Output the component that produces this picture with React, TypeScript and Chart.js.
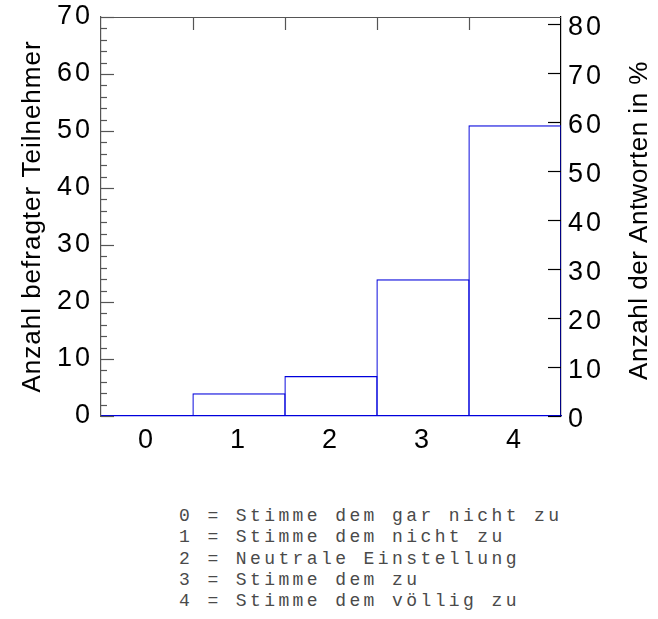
import React, { useEffect, useRef } from "react";
import { Chart, registerables } from "chart.js";

Chart.register(...registerables);

// Likert answer categories and how many participants chose each
const categories = ["0", "1", "2", "3", "4"];
const participants = [0, 4, 7, 24, 51];

// Left axis: participant counts
const countMax = 70;
const countStep = 10;
const countMinorStep = 2;
// Right axis: share of all answers in percent (same pixels as the count axis)
const totalAnswers = participants.reduce((a, b) => a + b, 0);
const percentMax = (countMax / totalAnswers) * 100;
const percentStep = 10;
const percentLastTick = 80;

const leftTitle = "Anzahl befragter Teilnehmer";
const rightTitle = "Anzahl der Antworten in %";

const legendLines = [
  "0 = Stimme dem gar nicht zu",
  "1 = Stimme dem nicht zu",
  "2 = Neutrale Einstellung",
  "3 = Stimme dem zu",
  "4 = Stimme dem völlig zu",
];

const SANS = '"Liberation Sans", Arial, sans-serif';
const BAR_BLUE = "#0000dc";
const BAR_LINE = 1.2;

// Inward tick marks, top frame line and rotated axis titles
const framePlugin = {
  id: "frame",
  beforeDraw(chart: any) {
    chart.ctx.letterSpacing = "3px";
  },
  afterDraw(chart: any) {
    const { ctx, chartArea, scales } = chart;
    const { left, right, top, bottom } = chartArea;
    const y = scales.y;
    const y2 = scales.y2;
    const x = scales.x;
    ctx.save();
    ctx.letterSpacing = "0px";
    ctx.lineWidth = 1.2;
    const seg = (x1: number, y1: number, x2: number, y2p: number) => {
      ctx.beginPath();
      ctx.moveTo(x1, y1);
      ctx.lineTo(x2, y2p);
      ctx.stroke();
    };

    ctx.strokeStyle = "#555";
    seg(left, top + 0.5, right, top + 0.5);
    for (let v = 0; v <= countMax; v += countMinorStep) {
      const py = Math.round(y.getPixelForValue(v)) + 0.5;
      const len = v % countStep === 0 ? 13 : 6;
      seg(left, py, left + len, py);
    }
    for (let i = 0; i < categories.length - 1; i++) {
      const px = Math.round((x.getPixelForValue(i) + x.getPixelForValue(i + 1)) / 2) + 0.5;
      seg(px, top, px, top + 13);
    }

    ctx.strokeStyle = "#000";
    for (let v = 0; v <= percentLastTick; v += percentStep) {
      const py = Math.round(y2.getPixelForValue(v)) + 0.5;
      seg(right - 13, py, right, py);
    }
    ctx.restore();

    const cy = (top + bottom) / 2;
    const drawTitle = (text: string, cx: number, cyy: number, spacing: string) => {
      ctx.save();
      ctx.fillStyle = "#000";
      ctx.font = `26px ${SANS}`;
      ctx.letterSpacing = spacing;
      ctx.textAlign = "center";
      ctx.textBaseline = "middle";
      ctx.translate(cx, cyy);
      ctx.rotate(-Math.PI / 2);
      ctx.fillText(text, 0, 0);
      ctx.restore();
    };
    drawTitle(leftTitle, 33, cy, "1px");
    drawTitle(rightTitle, 640, cy + 4, "0.5px");
  },
};

function SurveyChart() {
  const ref = useRef<HTMLCanvasElement | null>(null);

  useEffect(() => {
    if (!ref.current) return;
    const tickFont = { family: SANS, size: 27 };
    const chart = new Chart(ref.current, {
      type: "bar",
      data: {
        labels: categories,
        datasets: [
          {
            data: participants,
            backgroundColor: "rgba(0,0,0,0)",
            borderColor: BAR_BLUE,
            borderWidth: BAR_LINE,
            // widen each bar by one line width so neighbouring outlines share a single stroke
            barPercentage: (92 + BAR_LINE) / 92,
            categoryPercentage: 1,
            yAxisID: "y",
          },
        ],
      },
      options: {
        responsive: false,
        animation: false,
        devicePixelRatio: 1,
        layout: { padding: { top: 17, left: 0, right: 0, bottom: 0 } },
        plugins: {
          legend: { display: false },
          tooltip: { enabled: false },
        },
        scales: {
          x: {
            type: "category",
            grid: { display: false, drawTicks: false },
            border: { display: true, color: BAR_BLUE, width: 1.2 },
            ticks: { font: tickFont, color: "#000", padding: 8 },
            afterFit(scale: any) {
              scale.height = 54;
              scale.paddingLeft = 0;
              scale.paddingRight = 0;
            },
          },
          y: {
            position: "left",
            min: 0,
            max: countMax,
            grid: { display: false, drawTicks: false },
            border: { display: true, color: "#555", width: 1.2 },
            ticks: { stepSize: countStep, font: tickFont, color: "#000", padding: 8 },
            afterFit(scale: any) {
              scale.width = 101;
              scale.paddingTop = 0;
              scale.paddingBottom = 0;
            },
          },
          y2: {
            position: "right",
            min: 0,
            max: percentMax,
            grid: { display: false, drawTicks: false },
            border: { display: true, color: "#000", width: 1.2 },
            ticks: {
              stepSize: percentStep,
              includeBounds: false,
              font: tickFont,
              color: "#000",
              padding: 7,
              labelOffset: 4,
            },
            afterFit(scale: any) {
              scale.width = 97;
              scale.paddingTop = 0;
              scale.paddingBottom = 0;
            },
          },
        },
      },
      plugins: [framePlugin],
    } as any);
    return () => chart.destroy();
  }, []);

  return <canvas ref={ref} width={658} height={470} style={{ display: "block" }} />;
}

export default function App() {
  return (
    <div
      style={{
        position: "fixed",
        left: 0,
        top: 0,
        width: 658,
        height: 619,
        background: "#fff",
      }}
    >
      <SurveyChart />
      <div
        style={{
          position: "absolute",
          left: 179,
          top: 506,
          fontFamily: '"Liberation Mono", "DejaVu Sans Mono", monospace',
          fontSize: 18,
          letterSpacing: "3.4px",
          lineHeight: "21.25px",
          color: "#4a4a4a",
          whiteSpace: "pre",
        }}
      >
        {legendLines.map((l) => (
          <div key={l}>{l}</div>
        ))}
      </div>
    </div>
  );
}
